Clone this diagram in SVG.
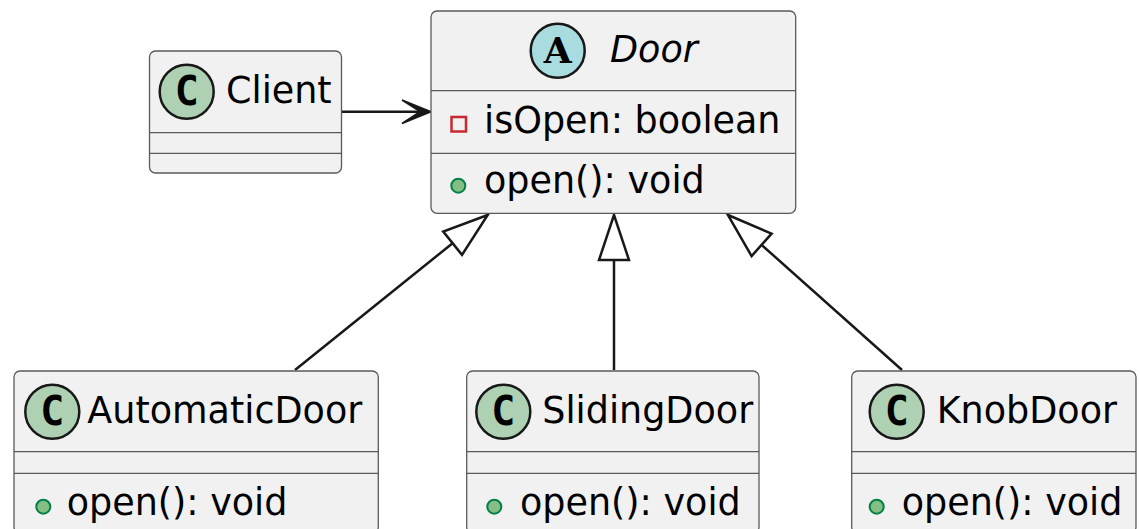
<svg xmlns="http://www.w3.org/2000/svg" width="1140" height="529" viewBox="0 0 1140 529">
<style>
.box{fill:#F1F1F1;stroke:#5a5a5a;stroke-width:1.3}
.sep{stroke:#5a5a5a;stroke-width:1.3}
.t{font-family:"DejaVu Sans",sans-serif;font-size:36.5px;fill:#000}
.it{font-style:italic}
.cc{fill:#ADD1B2;stroke:#181818;stroke-width:2.5}
.ac{fill:#A9DCDF;stroke:#181818;stroke-width:2.5}
.cl{font-family:"DejaVu Sans Mono",monospace;font-weight:bold;font-size:40px;fill:#000}
.al{font-family:"DejaVu Serif",serif;font-weight:bold;font-size:36px;fill:#000}
.pub{fill:#84BE84;stroke:#038048;stroke-width:2}
.priv{fill:none;stroke:#C82930;stroke-width:2.5}
.ln{stroke:#181818;stroke-width:2.5;fill:none}
.tri{fill:#fff;stroke:#181818;stroke-width:2.5}
</style>
<rect width="1140" height="529" fill="#fff"/>
<g id="connectors">
<line class="ln" x1="341.5" y1="111.7" x2="428" y2="111.7"/>
<polygon points="431,111.7 402,100 420,111.7 402,123.5" fill="#181818" stroke="#181818" stroke-width="1.5"/>
<line class="ln" x1="295" y1="370" x2="452.6" y2="243.2"/>
<polygon class="tri" points="487.7,215 443.2,231.5 462,254.9"/>
<line class="ln" x1="614" y1="370" x2="614" y2="260"/>
<polygon class="tri" points="614,215 599,260 629,260"/>
<line class="ln" x1="902" y1="370" x2="761.6" y2="244.9"/>
<polygon class="tri" points="728,215 771.6,233.7 751.6,256.1"/>
</g>
<g id="Client">
<rect class="box" x="149.5" y="51" width="192" height="122" rx="6"/>
<line class="sep" x1="149.5" y1="132.7" x2="341.5" y2="132.7"/>
<line class="sep" x1="149.5" y1="153.3" x2="341.5" y2="153.3"/>
<circle class="cc" cx="186.7" cy="91.7" r="27"/>
<text class="cl" x="186.7" y="105" text-anchor="middle">C</text>
<text class="t" x="226" y="102.7">Client</text>
</g>
<g id="Door">
<rect class="box" x="431" y="11" width="364.7" height="202.3" rx="6"/>
<line class="sep" x1="431" y1="90.7" x2="795.7" y2="90.7"/>
<line class="sep" x1="431" y1="153.3" x2="795.7" y2="153.3"/>
<circle class="ac" cx="557.7" cy="50.7" r="27"/>
<text class="al" x="557.7" y="63" text-anchor="middle">A</text>
<text class="t it" x="610" y="62.3">Door</text>
<rect class="priv" x="451.5" y="117" width="14.5" height="14.5"/>
<text class="t" x="484" y="133.3">isOpen: boolean</text>
<circle class="pub" cx="458.3" cy="185.7" r="7"/>
<text class="t" x="484" y="193.3">open(): void</text>
</g>
<g id="AutomaticDoor">
<rect class="box" x="14" y="371" width="364.3" height="162" rx="6"/>
<line class="sep" x1="14" y1="451.7" x2="378.3" y2="451.7"/>
<line class="sep" x1="14" y1="473.3" x2="378.3" y2="473.3"/>
<circle class="cc" cx="52.3" cy="411.7" r="27"/>
<text class="cl" x="52.3" y="425" text-anchor="middle">C</text>
<text class="t" x="87.3" y="422.7">AutomaticDoor</text>
<circle class="pub" cx="43.3" cy="506.7" r="7"/>
<text class="t" x="66.7" y="515">open(): void</text>
</g>
<g id="SlidingDoor">
<rect class="box" x="466.7" y="371" width="292.3" height="162" rx="6"/>
<line class="sep" x1="466.7" y1="451.7" x2="759" y2="451.7"/>
<line class="sep" x1="466.7" y1="473.3" x2="759" y2="473.3"/>
<circle class="cc" cx="503.3" cy="411.7" r="27"/>
<text class="cl" x="503.3" y="425" text-anchor="middle">C</text>
<text class="t" x="542.3" y="422.7">SlidingDoor</text>
<circle class="pub" cx="494.3" cy="506.7" r="7"/>
<text class="t" x="520" y="515">open(): void</text>
</g>
<g id="KnobDoor">
<rect class="box" x="851.7" y="371" width="284.3" height="162" rx="6"/>
<line class="sep" x1="851.7" y1="451.7" x2="1136" y2="451.7"/>
<line class="sep" x1="851.7" y1="473.3" x2="1136" y2="473.3"/>
<circle class="cc" cx="896.7" cy="411.7" r="27"/>
<text class="cl" x="896.7" y="425" text-anchor="middle">C</text>
<text class="t" x="936.7" y="422.7">KnobDoor</text>
<circle class="pub" cx="876.7" cy="506.7" r="7"/>
<text class="t" x="901.7" y="515">open(): void</text>
</g>
</svg>
